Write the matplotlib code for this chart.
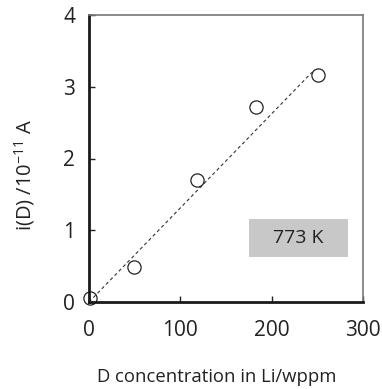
import matplotlib
matplotlib.use("Agg")
import matplotlib.pyplot as plt
from matplotlib.patches import Rectangle

plt.rcParams['font.family'] = ['Open Sans', 'DejaVu Sans']

conc = [1, 49, 118, 183, 251]
current = [0.05, 0.49, 1.70, 2.72, 3.16]
fit_x = [0, 244]
fit_slope = 3.2 / 244
xticks = [0, 100, 200, 300]
yticks = [0, 1, 2, 3, 4]

fig = plt.figure(figsize=(3.82, 3.89), dpi=100)
ax = fig.add_axes([89/382, 1-302/389, (363-89)/382, (302-15)/389])

ax.plot(fit_x, [fit_slope*v for v in fit_x], linestyle=(0, (3, 2.5)), color='#333333', linewidth=0.8)
ax.plot(conc, current, 'o', markersize=9.5, markerfacecolor='none', markeredgecolor='#222222', markeredgewidth=0.9, clip_on=False)

ax.set_xlim(0, 300)
ax.set_ylim(0, 4)
ax.set_xticks(xticks)
ax.set_yticks(yticks)
ax.tick_params(direction='in', length=4, width=1, labelsize=15, colors='#222222')
ax.tick_params(axis='x', pad=13)
ax.tick_params(axis='y', pad=10)
for s in ['left', 'bottom']:
    ax.spines[s].set_linewidth(2)
    ax.spines[s].set_color('#1a1a1a')
for s in ['top', 'right']:
    ax.spines[s].set_linewidth(1.2)
    ax.spines[s].set_color('#777777')

ax.set_xlabel('D concentration in Li/wppm', fontsize=13.3, color='#222222')
ax.set_ylabel('i(D) /10$^{\\mathregular{-11}}$ A', fontsize=14.5, color='#222222')
ax.xaxis.set_label_coords(128/274, -66/287)
ax.yaxis.set_label_coords(-52/274, 127/287)

ax.add_patch(Rectangle((175, 0.63), 109, 0.53, facecolor='#c8c8c8', edgecolor='none', zorder=1))
ax.text(229.5, 0.895, '773 K', fontsize=14, ha='center', va='center', color='#222222')

fig.savefig('out.png', dpi=100)
